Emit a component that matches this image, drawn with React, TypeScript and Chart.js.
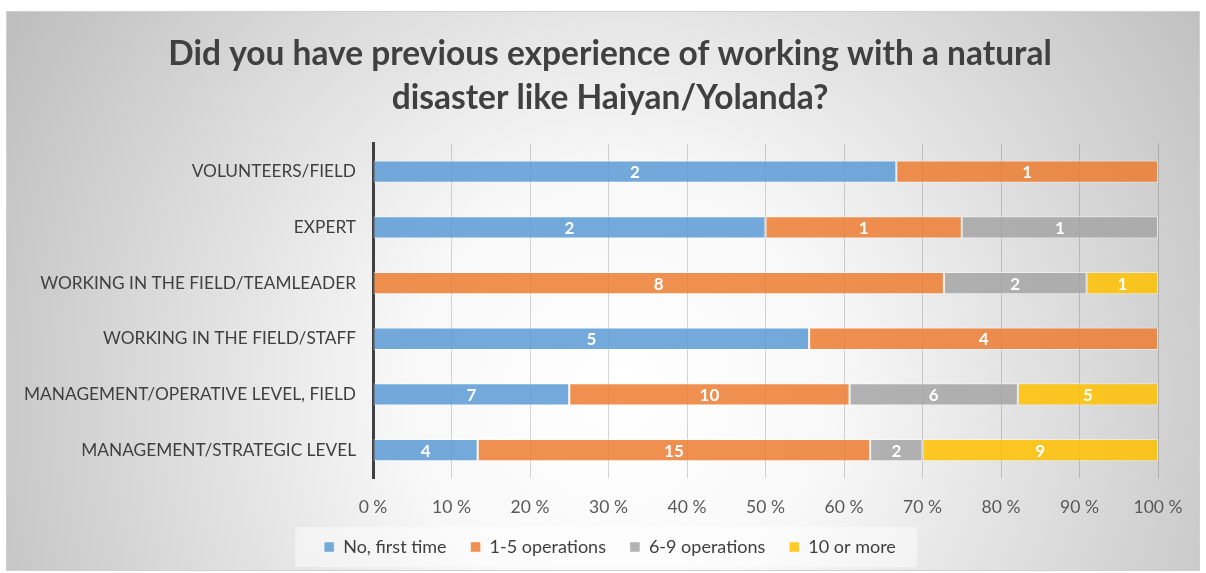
import React, { useEffect, useRef } from "react";
import { Chart, registerables } from "chart.js";

Chart.register(...registerables);

const categories = [
  "VOLUNTEERS/FIELD",
  "EXPERT",
  "WORKING IN THE FIELD/TEAMLEADER",
  "WORKING IN THE FIELD/STAFF",
  "MANAGEMENT/OPERATIVE LEVEL, FIELD",
  "MANAGEMENT/STRATEGIC LEVEL",
];
const seriesNames = ["No, first time", "1-5 operations", "6-9 operations", "10 or more"];
const noFirstTime = [2, 2, 0, 5, 7, 4];
const ops1to5 = [1, 1, 8, 4, 10, 15];
const ops6to9 = [0, 1, 2, 0, 6, 2];
const ops10plus = [0, 0, 1, 0, 5, 9];
const seriesColors = [
  "rgba(91,155,213,0.85)",
  "rgba(237,125,49,0.85)",
  "rgba(165,165,165,0.85)",
  "rgba(255,192,0,0.85)",
];
const titleLines = [
  "Did you have previous experience of working with a natural",
  "disaster like Haiyan/Yolanda?",
];

const FONT = "Lato, 'Open Sans', sans-serif";

export default function App() {
  const ref = useRef<HTMLCanvasElement | null>(null);

  useEffect(() => {
    const canvas = ref.current;
    if (!canvas) return;
    const counts = [noFirstTime, ops1to5, ops6to9, ops10plus];
    const totals = categories.map((_, i) => counts.reduce((s, arr) => s + arr[i], 0));
    const pct = counts.map((arr) => arr.map((v, i) => (v / totals[i]) * 100));

    const bgPlugin = {
      id: "bgPlugin",
      afterLayout(chart: any) {
        // let the long category labels extend left of the padded area without clipping
        if (chart.scales.y) chart.scales.y.left = 0;
      },
      beforeDraw(chart: any) {
        const ctx = chart.ctx;
        ctx.save();
        ctx.fillStyle = "#ffffff";
        ctx.fillRect(0, 0, chart.width, chart.height);
        const g = ctx.createRadialGradient(620, 390, 0, 620, 390, 720);
        g.addColorStop(0, "#ffffff");
        g.addColorStop(0.3, "#f8f8f8");
        g.addColorStop(1, "#bdbdbd");
        ctx.fillStyle = g;
        ctx.fillRect(6, 11, 1194, 560);
        ctx.strokeStyle = "#d0d0d0";
        ctx.lineWidth = 1;
        ctx.strokeRect(6.5, 11.5, 1193, 559);
        // legend background
        const lg = chart.legend;
        if (lg && lg.legendHitBoxes && lg.legendHitBoxes.length) {
          const hb = lg.legendHitBoxes;
          let minX = Infinity, maxX = -Infinity, minY = Infinity, maxY = -Infinity;
          hb.forEach((b: any) => {
            minX = Math.min(minX, b.left);
            maxX = Math.max(maxX, b.left + b.width);
            minY = Math.min(minY, b.top);
            maxY = Math.max(maxY, b.top + b.height);
          });
          const cy = (minY + maxY) / 2;
          ctx.fillStyle = "rgba(255,255,255,0.45)";
          ctx.fillRect(minX - 29, cy - 20, maxX - minX + 50, 40);
        }
        ctx.restore();
      },
    };

    const labelPlugin = {
      id: "labelPlugin",
      afterDatasetsDraw(chart: any) {
        const ctx = chart.ctx;
        ctx.save();
        ctx.fillStyle = "#ffffff";
        ctx.font = `bold 17px ${FONT}`;
        ctx.textAlign = "center";
        ctx.textBaseline = "middle";
        chart.data.datasets.forEach((ds: any, di: number) => {
          const meta = chart.getDatasetMeta(di);
          meta.data.forEach((el: any, i: number) => {
            const v = counts[di][i];
            if (!v) return;
            ctx.fillText(String(v), (el.x + el.base) / 2, el.y + 1);
          });
        });
        ctx.restore();
      },
    };

    const chart = new Chart(canvas, {
      type: "bar",
      data: {
        labels: categories,
        datasets: seriesNames.map((name, i) => ({
          label: name,
          data: pct[i],
          backgroundColor: seriesColors[i],
          borderColor: "rgba(255,255,255,0.45)",
          borderWidth: 1,
          borderSkipped: false,
          barPercentage: 0.8,
          categoryPercentage: 0.5,
        })),
      },
      options: {
        indexAxis: "y",
        responsive: false,
        animation: false,
        devicePixelRatio: 1,
        layout: { padding: { top: 11, right: 48, bottom: 7, left: 62 } },
        plugins: {
          tooltip: { enabled: false },
          title: {
            display: true,
            text: titleLines,
            color: "#404040",
            font: { family: FONT, size: 33.5, weight: "bold", lineHeight: 1.31 },
            padding: { top: 21, bottom: 24 },
          },
          legend: {
            position: "bottom",
            labels: {
              boxWidth: 10,
              boxHeight: 10,
              padding: 24,
              color: "#404040",
              font: { family: FONT, size: 18 },
            },
          },
        },
        scales: {
          x: {
            stacked: true,
            min: 0,
            max: 100,
            ticks: {
              stepSize: 10,
              color: "#595959",
              font: { family: FONT, size: 17.5, lineHeight: 1.0 },
              padding: 21,
              callback: (v: any) => `${v} %`,
            },
            grid: { color: "rgba(0,0,0,0.16)", drawTicks: false, lineWidth: 1 },
            border: { display: false },
            afterFit: (scale: any) => {
              scale.height = 36;
            },
          },
          y: {
            stacked: true,
            ticks: {
              color: "#404040",
              font: { family: FONT, size: 17.3 },
              padding: 17,
            },
            grid: { display: false, drawTicks: false },
            border: { display: true, color: "#404040", width: 3 },
            afterFit: (scale: any) => {
              scale.width = 373 - 62;
            },
          },
        },
      },
      plugins: [bgPlugin, labelPlugin],
    } as any);
    return () => chart.destroy();
  }, []);

  return (
    <div style={{ position: "absolute", left: 0, top: 0, width: 1206, height: 573 }}>
      <canvas ref={ref} width={1206} height={573} style={{ display: "block" }} />
    </div>
  );
}
